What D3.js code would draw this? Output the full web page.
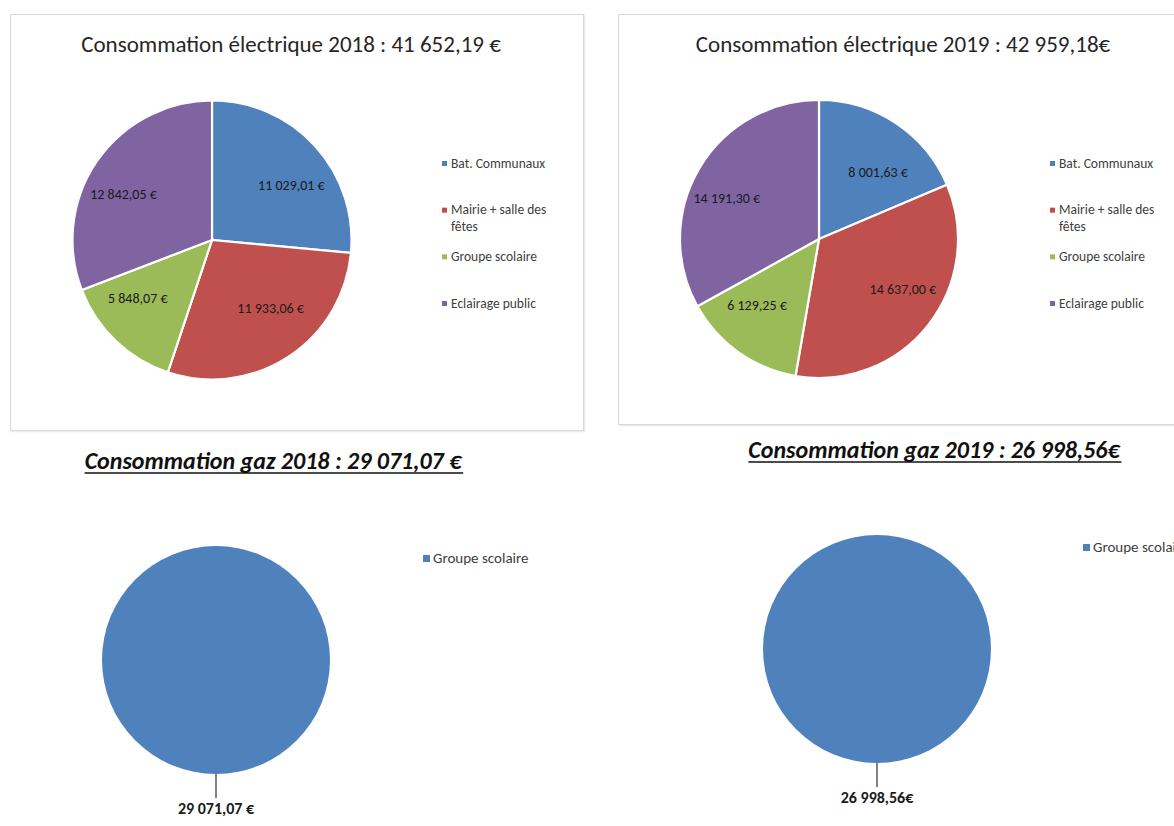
<!DOCTYPE html>
<html><head><meta charset="utf-8">
<script src="https://cdn.jsdelivr.net/npm/d3@7"></script>
<style>
html,body{margin:0;padding:0;background:#fff;overflow:hidden;}
svg{display:block;}
text{font-family:Carlito,Calibri,Lato,"Open Sans",sans-serif;}
</style></head>
<body>
<svg id="c" width="1174" height="826"></svg>
<script>
const categories = ["Bat. Communaux", "Mairie + salle des fêtes", "Groupe scolaire", "Eclairage public"];
const colors = ["#4F81BD", "#C0504D", "#9BBB59", "#8064A2"];
const elec2018 = [11029.01, 11933.06, 5848.07, 12842.05];
const elec2019 = [8001.63, 14637.00, 6129.25, 14191.30];
const gasCategories = ["Groupe scolaire"];
const gas2018 = [29071.07];
const gas2019 = [26998.56];
const titleElec2018 = "Consommation électrique 2018 : 41 652,19 €";
const titleElec2019 = "Consommation électrique 2019 : 42 959,18€";
const titleGas2018 = "Consommation gaz 2018 : 29 071,07 €";
const titleGas2019 = "Consommation gaz 2019 : 26 998,56€";

const fr = d3.formatLocale({decimal: ",", thousands: "\u00a0", grouping: [3], currency: ["", "\u00a0€"]});
const fmtEuro = fr.format("$,.2f");
const fmtEuroTight = v => fr.format(",.2f")(v) + "€";

const svg = d3.select("#c");

// chart frames (electric charts)
const frames = [{x: 10.5, y: 14.5, w: 573, h: 416}, {x: 618.5, y: 14.5, w: 580, h: 410}];
frames.forEach(f => {
  svg.append("rect").attr("x", f.x + 1).attr("y", f.y + 1).attr("width", f.w).attr("height", f.h)
    .attr("fill", "none").attr("stroke", "#ececec").attr("stroke-width", 1.5);
  svg.append("rect").attr("x", f.x).attr("y", f.y).attr("width", f.w).attr("height", f.h)
    .attr("fill", "#fff").attr("stroke", "#d9d9d9").attr("stroke-width", 1);
});

function wrapLegend(textSel, maxW) {
  textSel.each(function() {
    const t = d3.select(this);
    const words = t.text().split(" ");
    t.text(null);
    let line = [], ts = t.append("tspan").attr("x", t.attr("x")).attr("dy", 0);
    words.forEach(w => {
      line.push(w);
      ts.text(line.join(" "));
      if (ts.node().getComputedTextLength() > maxW && line.length > 1) {
        line.pop(); ts.text(line.join(" "));
        line = [w];
        ts = t.append("tspan").attr("x", t.attr("x")).attr("dy", 17).text(w);
      }
    });
  });
}

function elecChart(values, cx, cy, r, title, titleX, legendX) {
  svg.append("text").attr("x", titleX).attr("y", 52).attr("text-anchor", "middle")
    .attr("font-size", 23).attr("fill", "#262626").text(title);
  const pie = d3.pie().sort(null).value(d => d)(values);
  const arc = d3.arc().innerRadius(0).outerRadius(r);
  // labels placed on an ellipse inside the pie (wider than tall, like the original)
  const labelPos = d => {
    const a = (d.startAngle + d.endAngle) / 2;
    return [Math.sin(a) * r * 0.77, -Math.cos(a) * r * 0.58];
  };
  const g = svg.append("g").attr("transform", `translate(${cx},${cy})`);
  g.selectAll("path").data(pie).join("path")
    .attr("d", arc).attr("fill", (d, i) => colors[i])
    .attr("stroke", "#fff").attr("stroke-width", 2.2);
  g.selectAll("text").data(pie).join("text")
    .attr("transform", d => `translate(${labelPos(d)})`)
    .attr("text-anchor", "middle").attr("dy", "0.35em")
    .attr("font-size", 14).attr("fill", "#1a1a1a")
    .text(d => fmtEuro(d.data));
  // legend
  const ly = d3.scalePoint().domain(categories).range([167, 307]);
  const lg = svg.append("g");
  categories.forEach((c, i) => {
    lg.append("rect").attr("x", legendX).attr("y", ly(c) - 6).attr("width", 5).attr("height", 5)
      .attr("fill", colors[i]);
    const t = lg.append("text").attr("x", legendX + 9).attr("y", ly(c) + 0.5)
      .attr("font-size", 13.5).attr("fill", "#404040").text(c);
    wrapLegend(t, 108);
  });
}

elecChart(elec2018, 212, 240, 139.5, titleElec2018, 291, 442);
elecChart(elec2019, 819, 239, 139, titleElec2019, 903, 1050);

function gasChart(values, cx, cy, r, title, titleX, titleY, legendX, legendY, fmt) {
  const t = svg.append("text").attr("x", titleX).attr("y", titleY).attr("text-anchor", "middle")
    .attr("font-size", 24).attr("font-weight", "bold").attr("font-style", "italic")
    .attr("fill", "#111").text(title);
  const bb = t.node().getBBox();
  svg.append("line").attr("x1", bb.x).attr("x2", bb.x + bb.width)
    .attr("y1", titleY + 4).attr("y2", titleY + 4).attr("stroke", "#111").attr("stroke-width", 1.5);
  const pie = d3.pie().sort(null).value(d => d)(values);
  const arc = d3.arc().innerRadius(0).outerRadius(r);
  const g = svg.append("g").attr("transform", `translate(${cx},${cy})`);
  g.selectAll("path").data(pie).join("path").attr("d", arc).attr("fill", colors[0]);
  g.append("line").attr("x1", 0).attr("x2", 0).attr("y1", r).attr("y2", r + 24)
    .attr("stroke", "#404040").attr("stroke-width", 1.3);
  g.append("text").attr("x", 0).attr("y", r + 40).attr("text-anchor", "middle")
    .attr("font-size", 16).attr("font-weight", "bold").attr("fill", "#1a1a1a")
    .text(fmt(values[0]));
  gasCategories.forEach((c, i) => {
    svg.append("rect").attr("x", legendX).attr("y", legendY - 8).attr("width", 7).attr("height", 7).attr("fill", colors[0]);
    svg.append("text").attr("x", legendX + 10).attr("y", legendY).attr("font-size", 15)
      .attr("fill", "#404040").text(c);
  });
}

gasChart(gas2018, 216, 660, 114, titleGas2018, 273, 469, 423, 563, fmtEuro);
gasChart(gas2019, 877, 649, 114, titleGas2019, 934, 458, 1083, 552, fmtEuroTight);
</script>
</body></html>
